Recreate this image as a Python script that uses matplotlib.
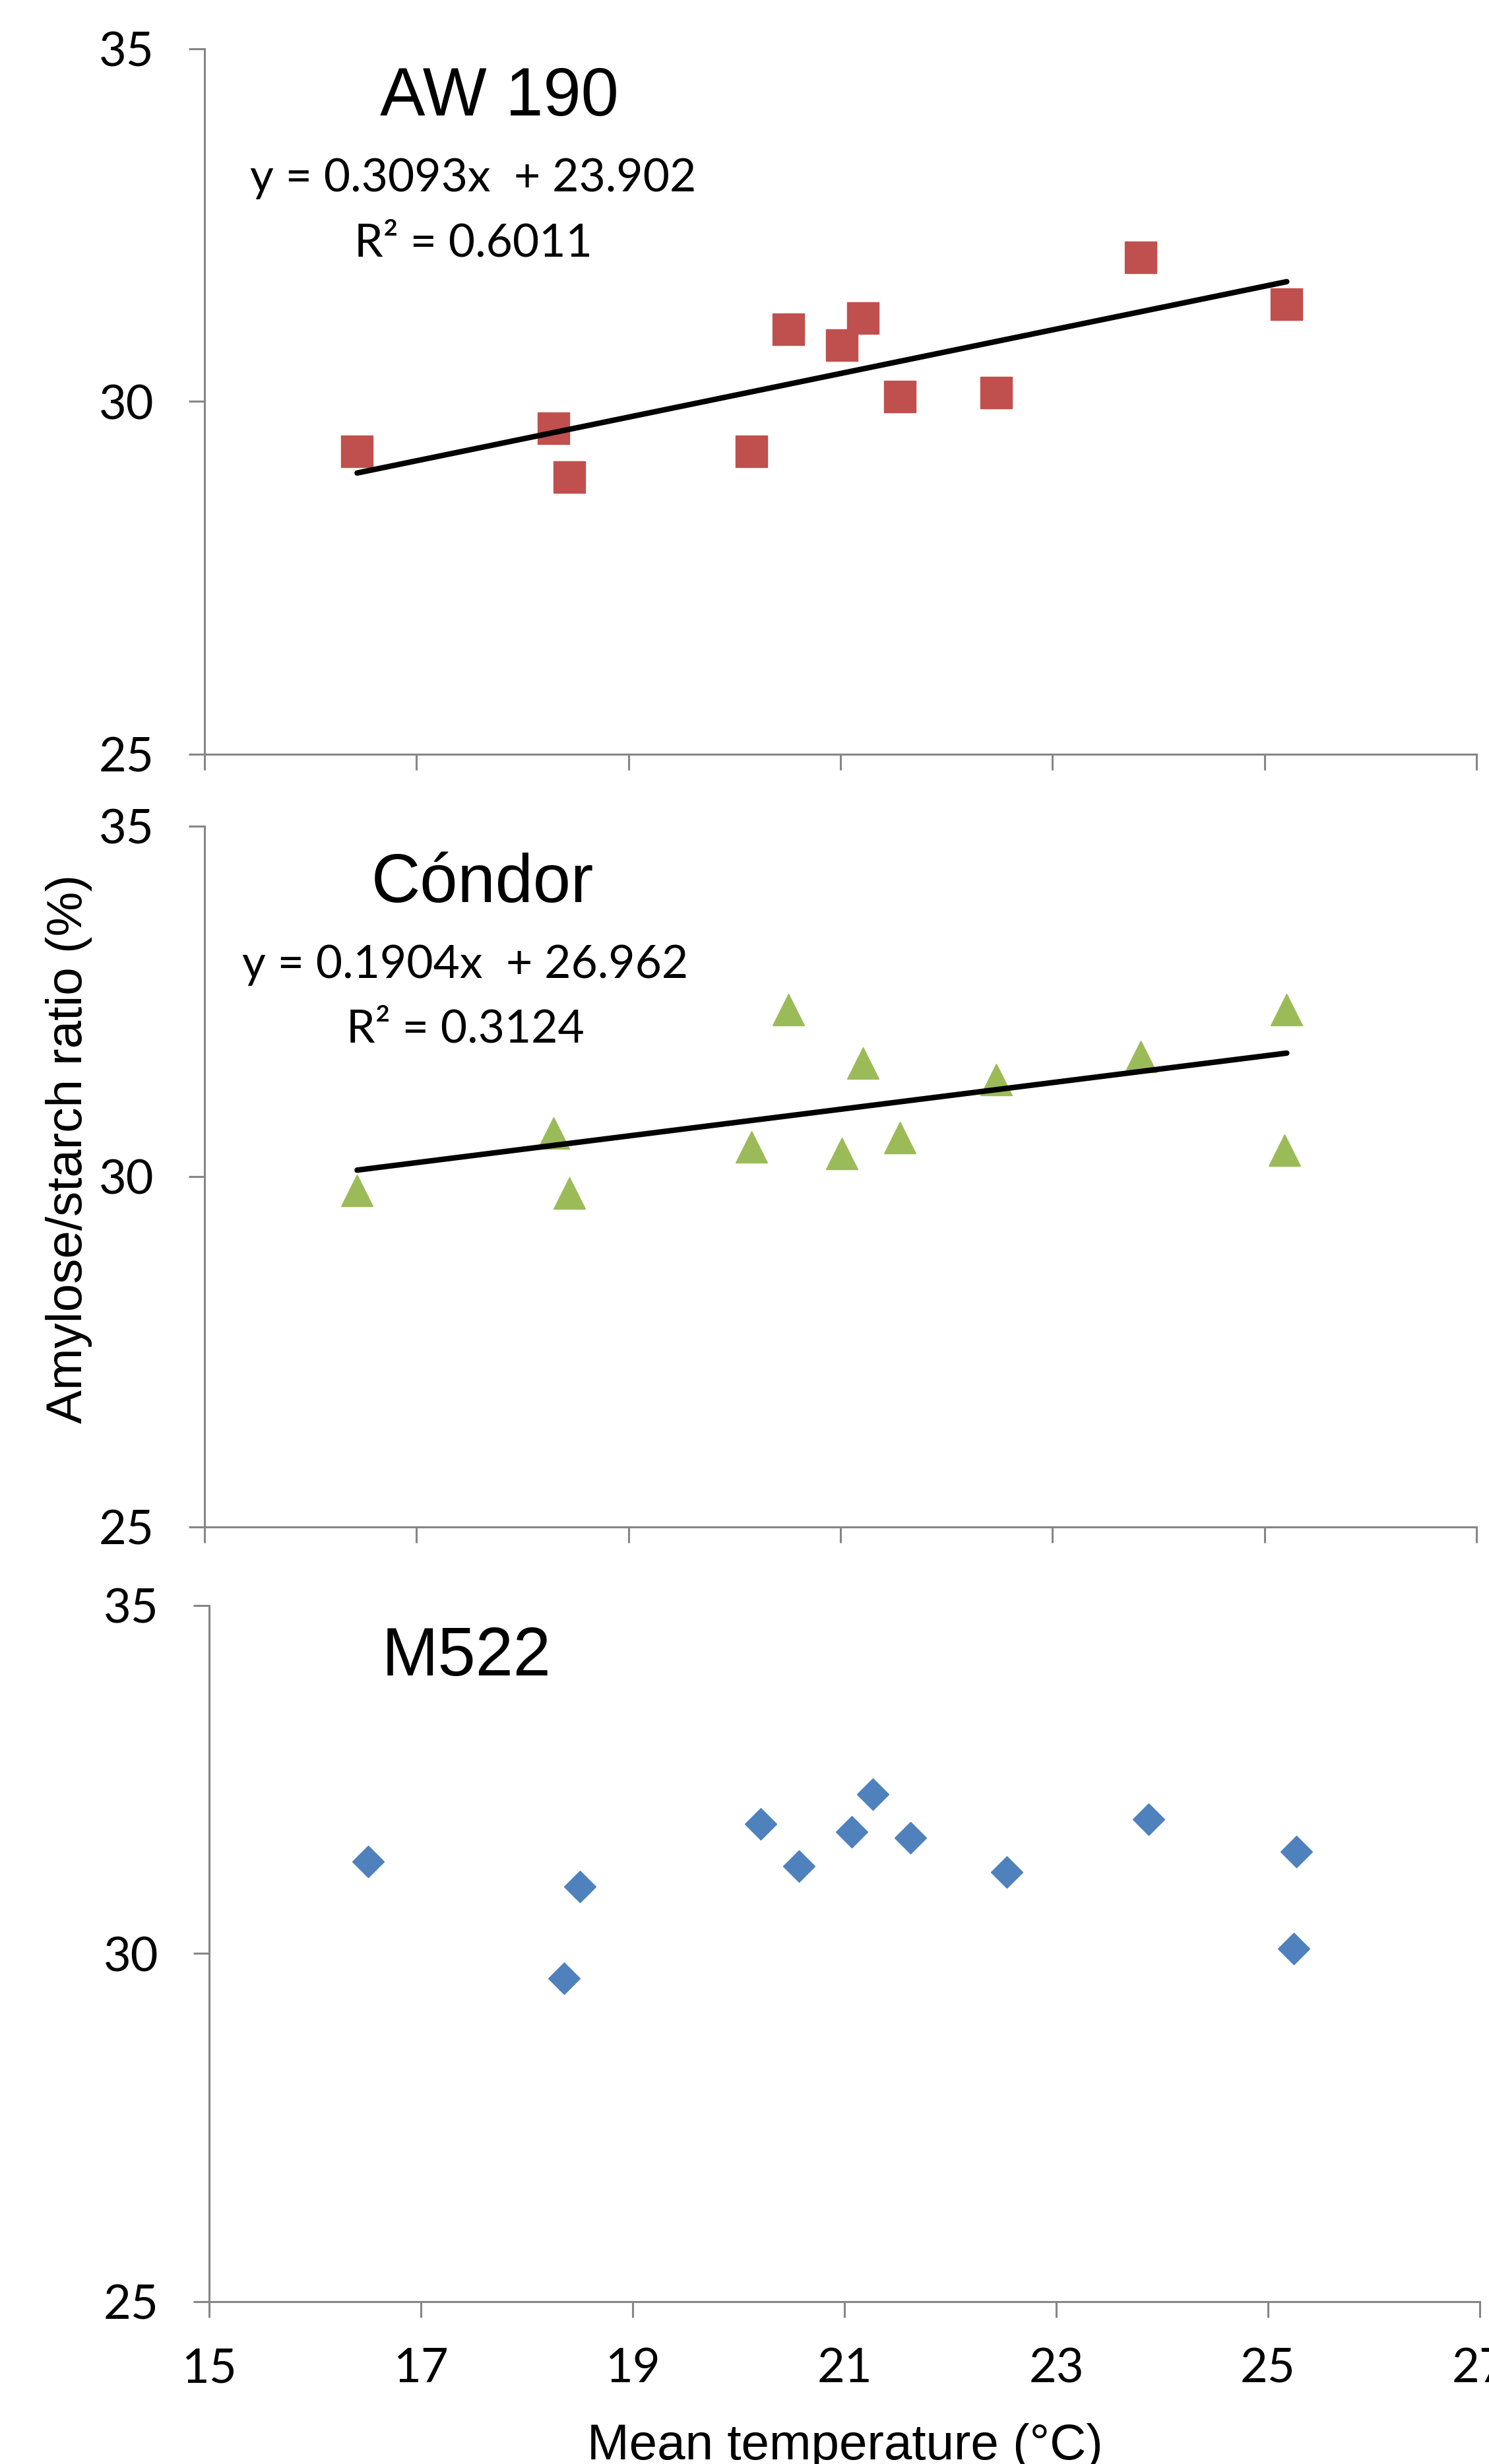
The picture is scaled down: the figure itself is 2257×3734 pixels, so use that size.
import numpy as np
import matplotlib
matplotlib.use("Agg")
from matplotlib import pyplot as plt

# mean temperature (°C) for each site/season
temp_aw = [16.44, 18.29, 18.44, 20.16, 20.51, 21.01, 21.21, 21.56, 22.47, 23.83, 25.21]
ratio_aw = [29.29, 29.62, 28.93, 29.29, 31.02, 30.80, 31.18, 30.07, 30.13, 32.04, 31.38]

temp_co = [16.44, 18.29, 18.44, 20.16, 20.51, 21.01, 21.21, 21.56, 22.47, 23.83, 25.21, 25.19]
ratio_co = [29.80, 30.62, 29.76, 30.42, 32.38, 30.33, 31.62, 30.56, 31.38, 31.71, 32.38, 30.38]

temp_m = [16.50, 18.35, 18.50, 20.21, 20.57, 21.07, 21.27, 21.62, 22.53, 23.87, 25.27, 25.24]
ratio_m = [31.32, 29.64, 30.96, 31.86, 31.26, 31.75, 32.29, 31.66, 31.17, 31.93, 31.46, 30.07]

# trendline coefficients (slope, intercept, R²)
fit_aw = (0.3093, 23.902, 0.6011)
fit_co = (0.1904, 26.962, 0.3124)

x_ticks = [15, 17, 19, 21, 23, 25, 27]
y_ticks = [25, 30, 35]

W, H = 2257, 3734
fig = plt.figure(figsize=(W / 100, H / 100), dpi=100)

AX_GREY = "#868686"
SANS = ["Liberation Sans", "DejaVu Sans"]
CAL = ["Lato", "DejaVu Sans"]   # stand-in for Calibri

def px_axes(l, t, r, b):
    return fig.add_axes([l / W, 1 - b / H, (r - l) / W, (b - t) / H])

def fpos(x, y):
    return x / W, 1 - y / H

panels = [
    dict(box=(310, 74, 2238, 1143), x=temp_aw, y=ratio_aw, m="s", ms=34, c="#C0504D",
         fit=fit_aw, name="AW 190", name_xy=(757, 148), eq_xy=(717, 271), r2_xy=(717, 369), labels=False),
    dict(box=(310, 1252, 2238, 2314), x=temp_co, y=ratio_co, m="^", ms=35, c="#9BBB59",
         fit=fit_co, name="Cóndor", name_xy=(731, 1340), eq_xy=(705, 1462), r2_xy=(705, 1560), labels=False),
    dict(box=(317, 2433, 2243, 3488), x=temp_m, y=ratio_m, m="D", ms=24, c="#4F81BD",
         fit=None, name="M522", name_xy=(707, 2512), labels=True),
]

for p in panels:
    ax = px_axes(*p["box"])
    ax.plot(p["x"], p["y"], linestyle="none", marker=p["m"], ms=p["ms"],
            mfc=p["c"], mec=p["c"], zorder=3, clip_on=False)
    if p["fit"] is not None:
        k, b0, r2 = p["fit"]
        xs = np.array([min(p["x"]), max(p["x"])])
        ax.plot(xs, k * xs + b0, color="black", lw=6, solid_capstyle="round", zorder=4)
        fig.text(*fpos(*p["eq_xy"]), f"y = {k:.4f}x  + {b0:.3f}", family=CAL,
                 fontsize=50, ha="center", va="center")
        fig.text(*fpos(*p["r2_xy"]), f"R² = {r2:.4f}", family=CAL,
                 fontsize=50, ha="center", va="center")
    fig.text(*fpos(*p["name_xy"]), p["name"], family=SANS, fontsize=74,
             ha="center", va="center")

    ax.set_xlim(15, 27)
    ax.set_ylim(25, 35)
    ax.set_xticks(x_ticks)
    ax.set_yticks(y_ticks)
    for s in ["top", "right"]:
        ax.spines[s].set_visible(False)
    for s in ["left", "bottom"]:
        ax.spines[s].set_color(AX_GREY)
        ax.spines[s].set_linewidth(2.2)
    ax.tick_params(direction="out", length=17, width=2.2, color=AX_GREY, labelsize=52)
    ax.tick_params(axis="y", pad=38)
    ax.tick_params(axis="x", pad=33)
    for lab in ax.get_xticklabels() + ax.get_yticklabels():
        lab.set_family(CAL)
    if not p["labels"]:
        ax.set_xticklabels([])

fig.text(*fpos(105, 1741), "Amylose/starch ratio (%)", family=SANS, fontsize=55,
         rotation=90, ha="center", va="center")
fig.text(*fpos(1281, 3727), "Mean temperature (°C)", family=SANS, fontsize=55,
         ha="center", va="baseline")

fig.savefig("out.png", dpi=100)
